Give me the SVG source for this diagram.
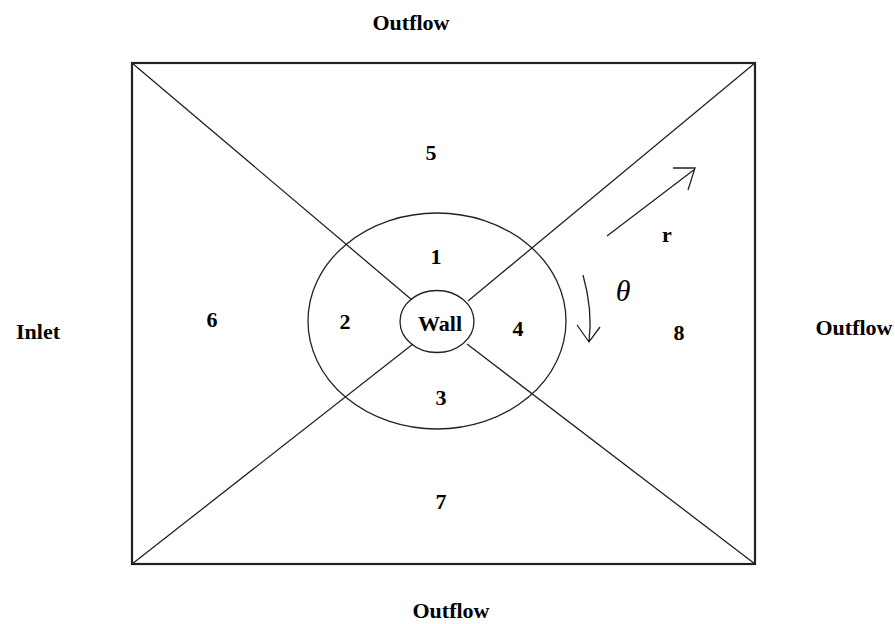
<svg xmlns="http://www.w3.org/2000/svg" width="895" height="624" viewBox="0 0 895 624">
<style>
.b{font-family:"Liberation Serif","Times New Roman",serif;font-weight:bold;font-size:22px;fill:#000;text-anchor:middle}
.ln{fill:none;stroke:#222;stroke-width:1.3}
.box{fill:none;stroke:#222;stroke-width:2.2}
</style>
<rect width="895" height="624" fill="#fff"/>
<g id="domain">
<rect class="box" x="132" y="63" width="623" height="501"/>
</g>
<g id="connectors">
<line class="ln" x1="132" y1="63" x2="412" y2="300"/>
<line class="ln" x1="755" y1="63" x2="468" y2="301"/>
<line class="ln" x1="132" y1="564" x2="413" y2="344"/>
<line class="ln" x1="755" y1="564" x2="467" y2="344"/>
<path class="ln" d="M607 236 L695 169 M673 168 L695 168 L688 190"/>
<path class="ln" d="M583 275 Q593 310 589 342 M577 325 L589 342 L600 327"/>
</g>
<g id="inner-ring">
<ellipse class="ln" cx="437" cy="321" rx="129" ry="108"/>
</g>
<g id="wall">
<ellipse class="ln" cx="437" cy="321.5" rx="37" ry="31"/>
<text class="b" x="440" y="331" font-size="23">Wall</text>
</g>
<g id="labels">
<text class="b" x="411" y="30">Outflow</text>
<text class="b" x="451" y="618">Outflow</text>
<text class="b" x="854" y="335">Outflow</text>
<text class="b" x="38" y="339">Inlet</text>
<text class="b" x="431" y="160">5</text>
<text class="b" x="436" y="264">1</text>
<text class="b" x="345" y="329">2</text>
<text class="b" x="518" y="336">4</text>
<text class="b" x="441" y="405">3</text>
<text class="b" x="212" y="327">6</text>
<text class="b" x="441" y="509">7</text>
<text class="b" x="679" y="340">8</text>
<text class="b" x="667" y="242">r</text>
<text x="623" y="301" font-family="Liberation Serif,serif" font-style="italic" font-size="30" text-anchor="middle">θ</text>
</g>
</svg>
